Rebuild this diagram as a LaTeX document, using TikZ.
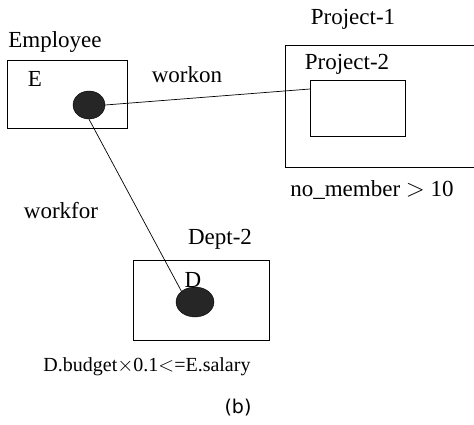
\documentclass[tikz,border=0pt]{standalone}
\usepackage{fontspec}
\setmainfont{Liberation Serif}
\newfontfamily\lblfont{Liberation Serif}
\newfontfamily\capfont{DejaVu Sans}
\usetikzlibrary{shapes.geometric}
\begin{document}
\begin{tikzpicture}[x=1pt,y=-1pt,
  lbl/.style={inner sep=0pt,font=\lblfont\fontsize{23}{26}\selectfont},
  small/.style={inner sep=0pt,font=\lblfont\fontsize{20}{24}\selectfont},
  box/.style={draw,line width=0.8pt},
  blob/.style={ellipse,fill=black!85,draw=black,inner sep=0pt},
  link/.style={line width=0.7pt}]
\useasboundingbox (0,0) rectangle (474,425);
\begin{scope}
\clip (0,0) rectangle (474,425);
% entity boxes
\draw[box] (7,60) rectangle (127,128);
\draw[box] (285,45) rectangle (490,167);
\draw[box] (310,80) rectangle (405,136);
\draw[box] (133,260) rectangle (269,340);
\end{scope}
% variables inside the boxes
\node[blob,minimum width=32pt,minimum height=28pt] (e) at (89,105) {};
\node[blob,minimum width=38pt,minimum height=30pt] (d) at (195,302) {};
\coordinate (p2) at (310,89);
% labels
\node[lbl] (emp) at (55,42) {Employee};
\node[lbl] (evar) at (35,79) {E};
\node[lbl] (won) at (187,75) {workon};
\node[lbl] (prj1) at (353,19) {Project-1};
\node[lbl] (prj2) at (347,64) {Project-2};
\node[lbl] (cond1) at (372,190) {no\_member $>$ 10};
\node[lbl] (wfor) at (61,211) {workfor};
\node[lbl] (dept) at (220,239) {Dept-2};
\node[lbl] (dvar) at (193,280) {D};
\node[small] (cond2) at (147,367) {D.budget$\times$0.1$<$=E.salary};
\node[inner sep=0pt,font=\capfont\fontsize{19}{22}\selectfont] (cap) at (238,408) {(b)};
% relationships
\draw[link] (e.east) -- (p2);
\draw[link] (e.south) -- (d.north west);
\end{tikzpicture}
\end{document}
